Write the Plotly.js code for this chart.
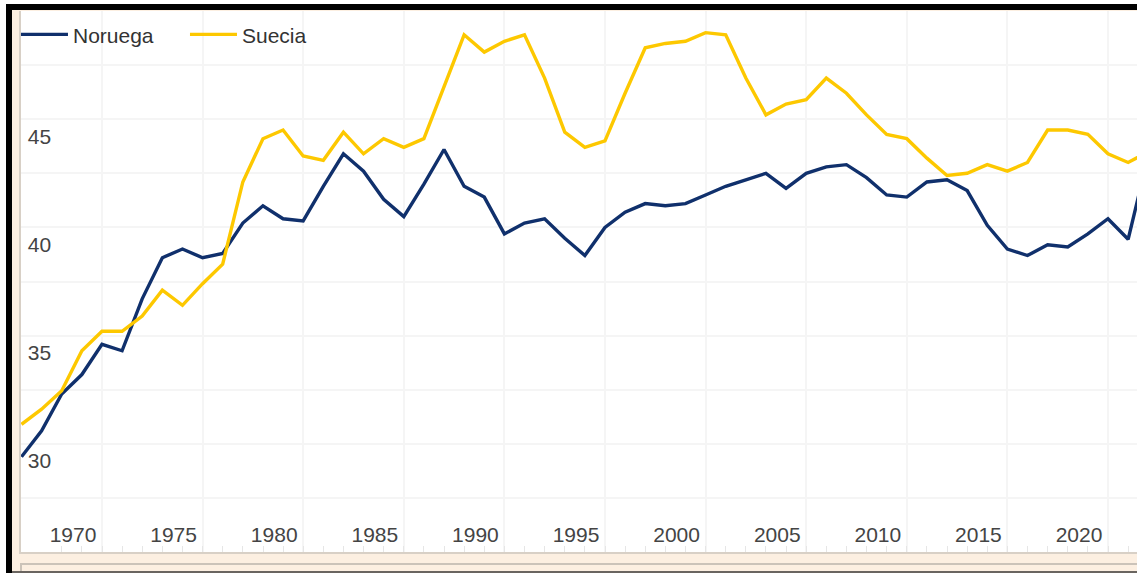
<!DOCTYPE html>
<html>
<head>
<meta charset="utf-8">
<script src="https://cdn.plot.ly/plotly-3.0.1.min.js"></script>
<style>
html,body{margin:0;padding:0;background:#fff;width:1137px;height:573px;overflow:hidden;}
#wrap{position:relative;width:1137px;height:573px;}
#beige{position:absolute;left:12px;top:10px;width:1125px;height:563px;background:#fcefe1;}
#nav{position:absolute;left:20px;top:563px;width:1117px;height:10px;box-sizing:border-box;border-top:2px solid #cbc3b9;border-left:2px solid #cbc3b9;}
#navb{position:absolute;left:12px;top:571px;width:1125px;height:2px;background:#6a6560;}
#chart{position:absolute;left:0;top:0;width:1137px;height:573px;}
#bl{position:absolute;left:6px;top:4px;width:6px;height:569px;background:#000;}
#bt{position:absolute;left:6px;top:4px;width:1131px;height:6px;background:#000;}
</style>
</head>
<body>
<div id="wrap">
  <div id="beige"></div>
  <div id="nav"></div>
  <div id="navb"></div>
  <div id="chart"></div>
  <div id="bl"></div>
  <div id="bt"></div>
</div>
<script>
// Data (one value per year)
var years = [1965,1966,1967,1968,1969,1970,1971,1972,1973,1974,
             1975,1976,1977,1978,1979,1980,1981,1982,1983,1984,
             1985,1986,1987,1988,1989,1990,1991,1992,1993,1994,
             1995,1996,1997,1998,1999,2000,2001,2002,2003,2004,
             2005,2006,2007,2008,2009,2010,2011,2012,2013,2014,
             2015,2016,2017,2018,2019,2020,2021];

var noruega = [29.4,30.6,32.3,33.2,34.6,34.3,36.7,38.6,39.0,38.6,
               38.8,40.2,41.0,40.4,40.3,41.9,43.4,42.6,41.3,40.5,
               42.0,43.6,41.9,41.4,39.7,40.2,40.4,39.5,38.7,40.0,
               40.7,41.1,41.0,41.1,41.5,41.9,42.2,42.5,41.8,42.5,
               42.8,42.9,42.3,41.5,41.4,42.1,42.2,41.7,40.1,39.0,
               38.7,39.2,39.1,39.7,40.4,39.45,43.3];

var suecia = [30.9,31.6,32.45,34.3,35.2,35.2,35.9,37.1,36.4,37.4,
              38.3,42.1,44.1,44.5,43.3,43.1,44.4,43.4,44.1,43.7,
              44.1,46.5,48.9,48.1,48.6,48.9,46.9,44.4,43.7,44.0,
              46.2,48.3,48.5,48.6,49.0,48.9,46.9,45.2,45.7,45.9,
              46.9,46.2,45.2,44.3,44.1,43.2,42.4,42.5,42.9,42.6,
              43.0,44.5,44.5,44.3,43.4,43.0,43.5];

var seriesNames = ['Noruega', 'Suecia'];
var seriesColors = ['#10306c', '#fdc800'];

// annual observations dated at year end
var xDates = years.map(function (y) { return y + '-12-31'; });

var traces = [noruega, suecia].map(function (vals, i) {
  return {
    type: 'scatter', mode: 'lines',
    name: seriesNames[i],
    x: xDates, y: vals,
    line: {color: seriesColors[i], width: 3.4},
    hoverinfo: 'x+y+name'
  };
});

var gridC = '#f5f5f5';
var layout = {
  width: 1137, height: 573,
  margin: {l: 21, r: 0, t: 11, b: 21, pad: 0},
  paper_bgcolor: 'rgba(0,0,0,0)',
  plot_bgcolor: '#ffffff',
  font: {family: '"Liberation Sans", Arial, sans-serif', size: 21, color: '#454545'},
  showlegend: true,
  legend: {
    orientation: 'h', x: -0.0045, y: 0.994, xanchor: 'left', yanchor: 'top',
    bgcolor: 'rgba(0,0,0,0)', borderwidth: 0,
    font: {size: 21, color: '#333'},
    itemwidth: 47, entrywidth: 107, entrywidthmode: 'pixels'
  },
  xaxis: {
    type: 'date',
    range: ['1965-12-22', '2021-06-10'],
    tick0: '1970-01-01', dtick: 'M60', tickformat: '%Y',
    showgrid: true, gridcolor: gridC, gridwidth: 2,
    ticks: 'inside', ticklen: 6, tickcolor: '#e6e6e6', tickwidth: 1,
    ticklabelposition: 'inside', ticklabelshift: -29, ticklabelstandoff: 1,
    showline: true, linecolor: '#d8d0c6', linewidth: 2,
    zeroline: false, fixedrange: true,
    minor: {tick0: '1970-01-01', dtick: 'M12', ticks: 'inside', ticklen: 6, tickcolor: '#e6e6e6', showgrid: false}
  },
  yaxis: {
    range: [25, 50],
    tickvals: [30, 35, 40, 45],
    showgrid: true, gridcolor: gridC, gridwidth: 2,
    ticks: '', ticklabelposition: 'inside', ticklabelshift: 17, ticklabelstandoff: 8,
    showline: true, linecolor: '#d8d0c6', linewidth: 2,
    zeroline: false, fixedrange: true,
    minor: {tick0: 25, dtick: 2.5, showgrid: true, gridcolor: gridC, gridwidth: 2}
  }
};

Plotly.newPlot('chart', traces, layout, {displayModeBar: false});
</script>
</body>
</html>
